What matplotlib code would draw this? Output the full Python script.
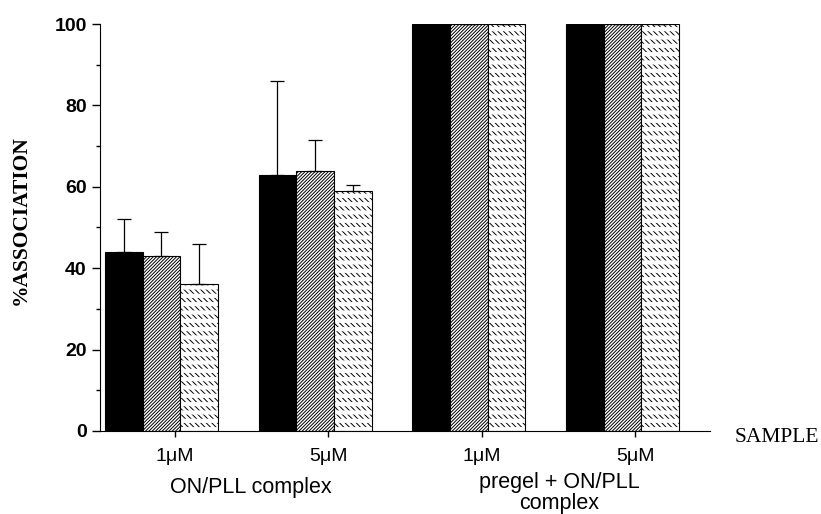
import numpy as np
import matplotlib.pyplot as plt
from matplotlib.ticker import MultipleLocator

# values
groups = ["1\u03bcM", "5\u03bcM", "1\u03bcM", "5\u03bcM"]
black_vals = [44, 63, 100, 100]
black_err = [8, 23, 0, 0]
diag_vals = [43, 64, 100, 100]
diag_err = [6, 7.5, 0, 0]
dash_vals = [36, 59, 100, 100]
dash_err = [10, 1.5, 0, 0]
group_titles = ["ON/PLL complex", "pregel + ON/PLL\ncomplex"]

x = np.arange(len(groups))
w = 0.245

fig = plt.figure(figsize=(8.21, 5.14), dpi=100)
ax = fig.add_axes([0.1218, 0.1615, 0.743, 0.7918])

ekw = dict(ecolor="black", elinewidth=0.9, capsize=5, capthick=0.9)

# only upper error bars
ax.bar(x - w, black_vals, w, color="black", edgecolor="black", linewidth=0.8,
       yerr=[np.zeros(4), black_err], error_kw=ekw)
b2 = ax.bar(x, diag_vals, w, color="white", edgecolor="black", linewidth=0.8,
            hatch="//////////", yerr=[np.zeros(4), diag_err], error_kw=ekw)
b3 = ax.bar(x + w, dash_vals, w, color="white", edgecolor="black", linewidth=0,
            hatch="\\\\\\\\\\\\", yerr=[np.zeros(4), dash_err], error_kw=ekw)
# white horizontal lines cut the diagonals into short dashes
b4 = ax.bar(x + w, dash_vals, w, color="none", edgecolor="white", linewidth=0,
            hatch="--")
for p in b4:
    if hasattr(p, "set_hatch_linewidth"):
        p.set_hatch_linewidth(3.0)
for p in list(b2) + list(b3):
    if hasattr(p, "set_hatch_linewidth"):
        p.set_hatch_linewidth(0.7)
ax.bar(x + w, dash_vals, w, fill=False, edgecolor="black", linewidth=0.8)

ax.set_xlim(-0.40, 3.57)
ax.set_ylim(0, 100)
ax.set_xticks(x + 0.085)
ax.set_xticklabels(groups, fontsize=14, family="Liberation Sans")
ax.yaxis.set_major_locator(MultipleLocator(20))
ax.yaxis.set_minor_locator(MultipleLocator(10))
for lab in ax.get_yticklabels():
    lab.set_fontweight("bold")
    lab.set_fontsize(14)
    lab.set_family("Liberation Sans")
ax.tick_params(axis="y", which="major", length=6, width=1)
ax.tick_params(axis="y", which="minor", length=3, width=1)
ax.tick_params(axis="x", length=4, width=1, pad=8)
ax.spines["top"].set_visible(False)
ax.spines["right"].set_visible(False)

fig.text(251 / 821, 1 - 488 / 514, group_titles[0], ha="center", va="center",
         fontsize=15.5, family="Liberation Sans")
fig.text(559 / 821, 1 - 493 / 514, group_titles[1], ha="center", va="center",
         fontsize=15.5, family="Liberation Sans", linespacing=1.0)
fig.text(777 / 821, 1 - 437 / 514, "SAMPLE", ha="center", va="center",
         fontsize=15.5, family="Liberation Serif")
fig.text(21 / 821, 1 - 220 / 514, "%ASSOCIATION", ha="center", va="center",
         rotation=90, fontsize=15.5, fontweight="bold", family="Liberation Serif")

plt.savefig("out.png")
